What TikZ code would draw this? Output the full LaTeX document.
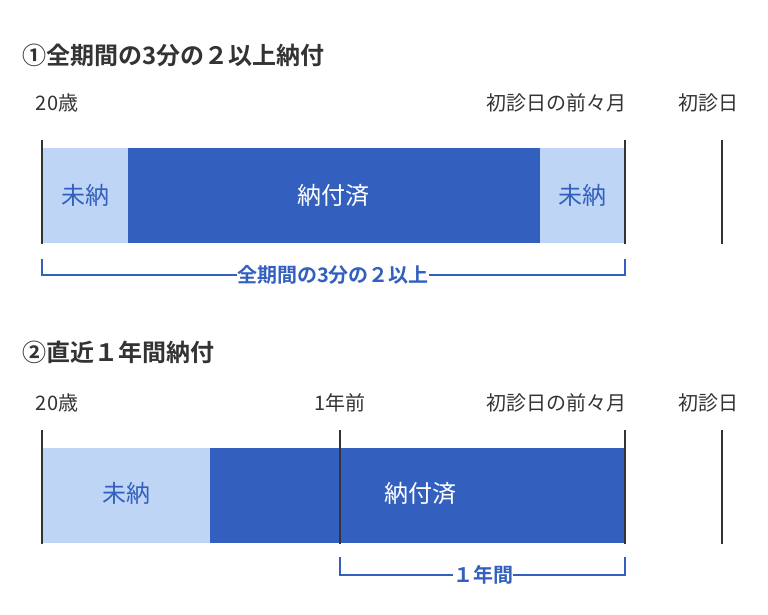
\documentclass[tikz,border=0pt]{standalone}
\usepackage{fontspec}
\setmainfont{Noto Sans CJK JP}
\newfontfamily\jpb{Noto Sans CJK JP Bold}
\definecolor{lb}{HTML}{BED5F6}
\definecolor{db}{HTML}{3360BE}
\definecolor{tx}{HTML}{333333}
\tikzset{
 lbl/.style={font=\fontsize{20}{22}\selectfont,text=tx,inner sep=0},
 ttl/.style={font=\jpb\fontsize{24}{26}\selectfont,text=tx,inner sep=0,anchor=west},
 bart/.style={font=\fontsize{24}{26}\selectfont,inner sep=0},
 brk/.style={draw=db,line width=2.5pt},
 brl/.style={fill=white,inner xsep=10pt,inner sep=0,text=db,font=\jpb\fontsize{20}{22}\selectfont},
 tick/.style={draw=tx,line width=2.5pt}
}
\begin{document}
\begin{tikzpicture}[x=1pt,y=-1pt]
\useasboundingbox (0,0) rectangle (768,614);
\node[ttl] (t1) at (22,55) {①全期間の3分の２以上納付};
\node[lbl] (a1) at (57,103) {20歳};
\node[lbl] (b1) at (556,103) {初診日の前々月};
\node[lbl] (c1) at (708,103) {初診日};
\fill[lb] (42,148) rectangle (128,243);
\fill[db] (128,148) rectangle (540,243);
\fill[lb] (540,148) rectangle (625,243);
\node[bart,text=db] (u1) at (85,195) {未納};
\node[bart,text=white] (p1) at (333,195) {納付済};
\node[bart,text=db] (u2) at (582,195) {未納};
\draw[tick] (42,140) -- (42,244);
\draw[tick] (625,140) -- (625,244);
\draw[tick] (722,140) -- (722,244);
\draw[brk] (42,259) -- (42,275) -- (625,275) -- (625,259);
\node[brl] (l1) at (333,275) {全期間の3分の２以上};
\node[ttl] (t2) at (22,352) {②直近１年間納付};
\node[lbl] (a2) at (57,403) {20歳};
\node[lbl] (m2) at (340,403) {1年前};
\node[lbl] (b2) at (556,403) {初診日の前々月};
\node[lbl] (c2) at (708,403) {初診日};
\fill[lb] (42,448) rectangle (210,543);
\fill[db] (210,448) rectangle (625,543);
\node[bart,text=db] (u3) at (126,493) {未納};
\node[bart,text=white] (p2) at (420,493) {納付済};
\draw[tick] (42,430) -- (42,544);
\draw[tick] (340,430) -- (340,544);
\draw[tick] (625,430) -- (625,544);
\draw[tick] (722,430) -- (722,544);
\draw[brk] (340,557) -- (340,575) -- (625,575) -- (625,557);
\node[brl] (l2) at (483,575) {１年間};
\end{tikzpicture}
\end{document}
